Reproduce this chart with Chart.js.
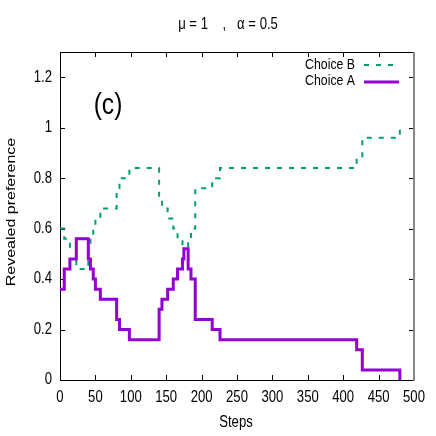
<!DOCTYPE html>
<html>
<head>
<meta charset="utf-8">
<script src="https://cdn.jsdelivr.net/npm/chart.js@4"></script>
<style>
html, body { margin: 0; padding: 0; background: #fff; }
#c { display: block; }
</style>
</head>
<body>
<canvas id="c" width="436" height="436"></canvas>
<script>
// step where each level begins (both series change at the same steps)
var steps = [0, 6, 14, 23, 40, 43, 47, 50, 57, 80, 84, 98, 140, 144, 152, 160, 166, 173, 175, 181, 185, 191, 215, 226, 419, 427, 480];
var choiceA = [0.36, 0.44, 0.48, 0.56, 0.48, 0.44, 0.40, 0.36, 0.32, 0.24, 0.20, 0.16, 0.28, 0.32, 0.36, 0.40, 0.44, 0.48, 0.52, 0.44, 0.40, 0.24, 0.20, 0.16, 0.12, 0.04, 0];
var choiceB = [0.60, 0.56, 0.52, 0.44, 0.52, 0.56, 0.60, 0.64, 0.68, 0.76, 0.80, 0.84, 0.72, 0.68, 0.64, 0.60, 0.56, 0.52, 0.48, 0.56, 0.60, 0.76, 0.80, 0.84, 0.88, 0.96, 1.00];
var xTicks = [0, 50, 100, 150, 200, 250, 300, 350, 400, 450, 500];
var yTicks = [0, 0.2, 0.4, 0.6, 0.8, 1, 1.2];
var yTickLabels = ['0', '0.2', '0.4', '0.6', '0.8', '1', '1.2'];

var titleText = 'μ = 1    ,   α = 0.5';
var xLabel = 'Steps';
var yLabel = 'Revealed preference';
var panelLabel = '(c)';

var fam = "'Liberation Sans', Arial, sans-serif";
var squeeze = 0.82; // reference text is narrower than it is tall

function toPoints(xs, ys) {
  var pts = [];
  for (var i = 0; i < xs.length; i++) pts.push({ x: xs[i], y: ys[i] });
  return pts;
}

function sqText(ctx, text, x, y, size, align) {
  ctx.save();
  ctx.translate(x, y);
  ctx.scale(squeeze, 1);
  ctx.font = size + 'px ' + fam;
  ctx.textAlign = align;
  ctx.textBaseline = 'middle';
  ctx.fillText(text, 0, 0);
  ctx.restore();
}

// gnuplot-like frame, inward ticks, labels and key
var gnuplotBits = {
  id: 'gnuplotBits',
  beforeDatasetsDraw: function (chart) {
    var ctx = chart.ctx, a = chart.chartArea;
    var sx = chart.scales.x, sy = chart.scales.y;
    ctx.save();
    ctx.strokeStyle = '#000';
    ctx.lineWidth = 1;
    ctx.beginPath();
    xTicks.forEach(function (v) {
      var p = Math.round(sx.getPixelForValue(v)) + 0.5;
      ctx.moveTo(p, a.bottom); ctx.lineTo(p, a.bottom - 5);
      ctx.moveTo(p, a.top); ctx.lineTo(p, a.top + 5);
    });
    yTicks.forEach(function (v) {
      var p = Math.round(sy.getPixelForValue(v)) + 0.5;
      ctx.moveTo(a.left, p); ctx.lineTo(a.left + 5, p);
      ctx.moveTo(a.right, p); ctx.lineTo(a.right - 5, p);
    });
    ctx.stroke();
    ctx.beginPath();
    ctx.moveTo(a.right, a.bottom + 0.5);
    ctx.lineTo(a.left + 0.5, a.bottom + 0.5);
    ctx.lineTo(a.left + 0.5, a.top + 0.5);
    ctx.lineTo(a.right, a.top + 0.5);
    ctx.stroke();
    ctx.strokeStyle = '#888';
    ctx.lineWidth = 2;
    ctx.beginPath();
    ctx.moveTo(a.right, a.top);
    ctx.lineTo(a.right, a.bottom + 1);
    ctx.stroke();

    // tick labels
    ctx.fillStyle = '#000';
    xTicks.forEach(function (v) {
      sqText(ctx, String(v), sx.getPixelForValue(v), a.bottom + 18, 16, 'center');
    });
    yTicks.forEach(function (v, i) {
      sqText(ctx, yTickLabels[i], a.left - 8, sy.getPixelForValue(v), 16, 'right');
    });
    ctx.restore();
  },
  afterDraw: function (chart) {
    var ctx = chart.ctx;
    ctx.save();
    ctx.fillStyle = '#000';

    sqText(ctx, titleText, 228, 25, 16, 'center');
    sqText(ctx, xLabel, 236, 423, 16, 'center');
    sqText(ctx, panelLabel, 108, 106, 30, 'center');

    // y label: rotated, so the squeeze goes across the text
    ctx.save();
    ctx.translate(11, 212);
    ctx.rotate(-Math.PI / 2);
    ctx.scale(1, squeeze);
    ctx.font = '16px ' + fam;
    ctx.textAlign = 'center';
    ctx.textBaseline = 'middle';
    ctx.fillText(yLabel, 0, 0);
    ctx.restore();

    // key
    sqText(ctx, 'Choice B', 355, 65, 15, 'right');
    sqText(ctx, 'Choice A', 355, 81, 15, 'right');
    ctx.strokeStyle = '#009e73';
    ctx.lineWidth = 2;
    ctx.setLineDash([5, 7]);
    ctx.beginPath();
    ctx.moveTo(364, 65); ctx.lineTo(399, 65);
    ctx.stroke();
    ctx.setLineDash([]);
    ctx.strokeStyle = '#9400d3';
    ctx.lineWidth = 3;
    ctx.beginPath();
    ctx.moveTo(364, 82); ctx.lineTo(399, 82);
    ctx.stroke();
    ctx.restore();
  }
};

var ctx = document.getElementById('c').getContext('2d');
var chart = new Chart(ctx, {
  type: 'line',
  data: {
    datasets: [
      {
        label: 'Choice A',
        data: toPoints(steps, choiceA),
        borderColor: '#9400d3',
        borderWidth: 3,
        stepped: 'before',
        pointRadius: 0,
        fill: false
      },
      {
        label: 'Choice B',
        data: toPoints(steps, choiceB),
        borderColor: '#009e73',
        borderWidth: 2,
        borderDash: [5, 7],
        stepped: 'before',
        pointRadius: 0,
        fill: false
      }
    ]
  },
  options: {
    responsive: false,
    animation: false,
    layout: { padding: { top: 52, right: 22, left: 0, bottom: 0 } },
    plugins: {
      legend: { display: false },
      title: { display: false },
      tooltip: { enabled: false }
    },
    scales: {
      x: {
        type: 'linear',
        min: 0,
        max: 500,
        grid: { display: false, drawTicks: false },
        border: { display: false },
        ticks: { display: false, stepSize: 50 },
        afterFit: function (scale) { scale.height = 56; }
      },
      y: {
        min: 0,
        max: 1.3,
        grid: { display: false, drawTicks: false },
        border: { display: false },
        ticks: { display: false, stepSize: 0.2 },
        afterFit: function (scale) { scale.width = 60; }
      }
    }
  },
  plugins: [gnuplotBits]
});
</script>
</body>
</html>
